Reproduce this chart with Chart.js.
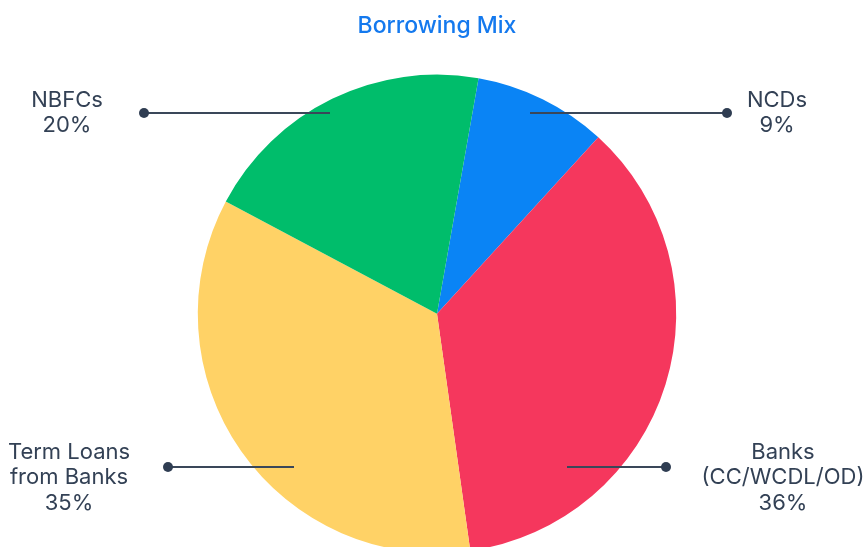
<!DOCTYPE html>
<html>
<head>
<meta charset="utf-8">
<script src="https://cdn.jsdelivr.net/npm/chart.js@4.4.0/dist/chart.umd.min.js"></script>
<style>
  html, body { margin: 0; padding: 0; background: #fff; overflow: hidden; }
  #wrap { width: 864px; height: 600px; }
</style>
</head>
<body>
<div id="wrap"><canvas id="mixChart" width="864" height="600"></canvas></div>
<script>
// Borrowing mix data
const categories = ['NCDs', 'Banks (CC/WCDL/OD)', 'Term Loans from Banks', 'NBFCs'];
const shares = [9, 36, 35, 20];
const sliceColors = ['#0A84F5', '#F5375D', '#FFD266', '#00BD6B'];
const labelLines = [
    ['NCDs', '9%'],
    ['Banks', '(CC/WCDL/OD)', '36%'],
    ['Term Loans', 'from Banks', '35%'],
    ['NBFCs', '20%']
];

// where each callout sits (dot, inner end, text)
const callouts = [
    { dotX: 727, innerX: 530, y: 113, textX: 777, textY: 100 },
    { dotX: 666, innerX: 567, y: 467, textX: 783, textY: 452 },
    { dotX: 168, innerX: 294, y: 467, textX: 69, textY: 452 },
    { dotX: 144, innerX: 330, y: 113, textX: 67, textY: 100 }
];

const calloutPlugin = {
    id: 'callouts',
    afterDatasetsDraw(chart) {
        const ctx = chart.ctx;
        ctx.save();
        callouts.forEach(function(c, i) {
            ctx.strokeStyle = '#3a4759';
            ctx.lineWidth = 2;
            ctx.beginPath();
            ctx.moveTo(c.innerX, c.y);
            ctx.lineTo(c.dotX, c.y);
            ctx.stroke();
            ctx.fillStyle = '#2f3d52';
            ctx.beginPath();
            ctx.arc(c.dotX, c.y, 5, 0, Math.PI * 2);
            ctx.fill();

            ctx.fillStyle = '#334155';
            ctx.font = '22px Inter, "Noto Sans", sans-serif';
            ctx.textAlign = 'center';
            ctx.textBaseline = 'middle';
            labelLines[i].forEach(function(line, j) {
                ctx.fillText(line, c.textX, c.textY + j * 25.5);
            });
        });
        ctx.restore();
    }
};

function initializeMixChart() {
    const mixCtx = document.getElementById('mixChart');
    if (!mixCtx) return;

    new Chart(mixCtx, {
        type: 'pie',
        data: {
            labels: categories,
            datasets: [{
                data: shares,
                backgroundColor: sliceColors,
                borderWidth: 0
            }]
        },
        options: {
            responsive: false,
            animation: false,
            rotation: 10,
            layout: {
                padding: { top: 0, bottom: 47, left: 10, right: 0 }
            },
            plugins: {
                legend: { display: false },
                tooltip: { enabled: false },
                title: {
                    display: true,
                    text: 'Borrowing Mix',
                    color: '#1479EE',
                    font: { family: 'Inter, "Noto Sans", sans-serif', size: 23, weight: '500' },
                    padding: { top: 12, bottom: 35 }
                }
            }
        },
        plugins: [calloutPlugin]
    });
}

document.addEventListener('DOMContentLoaded', function() {
    initializeMixChart();
});
</script>
</body>
</html>
